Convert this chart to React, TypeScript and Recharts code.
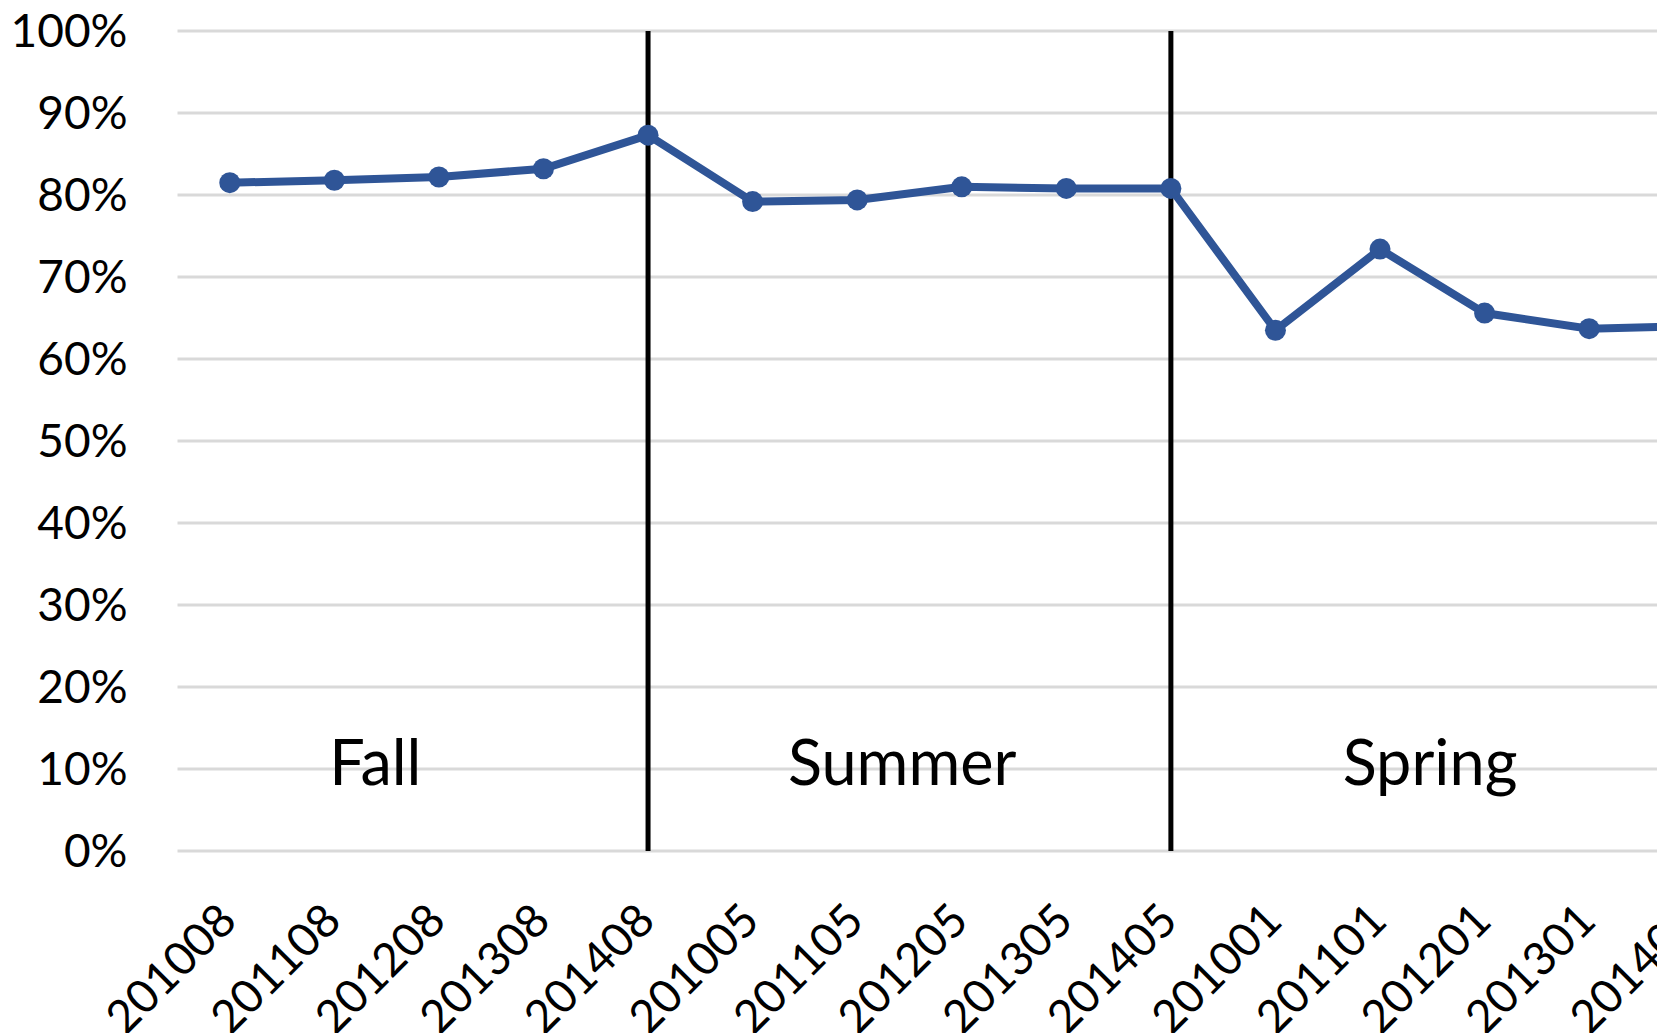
import { LineChart, Line, XAxis, YAxis, CartesianGrid, ReferenceLine, ReferenceDot } from 'recharts'

const categories = ['201008', '201108', '201208', '201308', '201408', '201005', '201105', '201205', '201305', '201405', '201001', '201101', '201201', '201301', '201401']
const rates = [81.5, 81.8, 82.2, 83.2, 87.3, 79.2, 79.4, 81.0, 80.8, 80.8, 63.5, 73.4, 65.6, 63.7, 64.0]
const yTicks = [0, 10, 20, 30, 40, 50, 60, 70, 80, 90, 100]
const seasonBreaks = ['201408', '201405']

const data = categories.map((term, i) => ({ term, rate: rates[i] }))

const FONT = 'Lato, "Open Sans", sans-serif'
const BLUE = '#2F5597'

function XTick({ x, y, payload }: any) {
  return (
    <g transform={`translate(${x + 9},${y + 72})`}>
      <text textAnchor="end" transform="rotate(-45)" fontSize={46} fontFamily={FONT} fill="#000">
        {payload.value}
      </text>
    </g>
  )
}

// season caption drawn at a reference dot, nudged right by dx
const seasonLabel = (text: string, dx: number) => (props: any) => (
  <text x={props.cx + dx} y={props.cy} textAnchor="middle" fontSize={63} fontFamily={FONT} fill="#000">
    {text}
  </text>
)

export default function App() {
  return (
    <div style={{ position: 'absolute', left: 0, top: 0, width: 1657, height: 1033, overflow: 'hidden', background: '#fff' }}>
      <LineChart width={1760} height={1033} data={data} margin={{ top: 31, right: 14, bottom: 0, left: 0 }}>
        <CartesianGrid vertical={false} stroke="#D9D9D9" strokeWidth={3} />
        <XAxis
          dataKey="term"
          scale="band"
          height={182}
          axisLine={false}
          tickLine={false}
          tickSize={0}
          tickMargin={0}
          interval={0}
          tick={<XTick />}
        />
        <YAxis
          width={177.5}
          domain={[0, 100]}
          ticks={yTicks}
          tickFormatter={v => `${v}%`}
          axisLine={false}
          tickLine={false}
          tickSize={0}
          tickMargin={50}
          tick={{ fontSize: 46, fontFamily: FONT, fill: '#000' }}
        />
        {seasonBreaks.map(t => (
          <ReferenceLine key={t} x={t} stroke="#000" strokeWidth={5} />
        ))}
        <ReferenceDot x="201108" y={8} r={0} shape={seasonLabel('Fall', 41)} />
        <ReferenceDot x="201105" y={8} r={0} shape={seasonLabel('Summer', 45)} />
        <ReferenceDot x="201101" y={8} r={0} shape={seasonLabel('Spring', 50)} />
        <Line
          type="linear"
          dataKey="rate"
          stroke={BLUE}
          strokeWidth={8}
          dot={{ r: 10.5, fill: BLUE, stroke: BLUE, strokeWidth: 0 }}
          activeDot={false}
          isAnimationActive={false}
        />
      </LineChart>
    </div>
  )
}
